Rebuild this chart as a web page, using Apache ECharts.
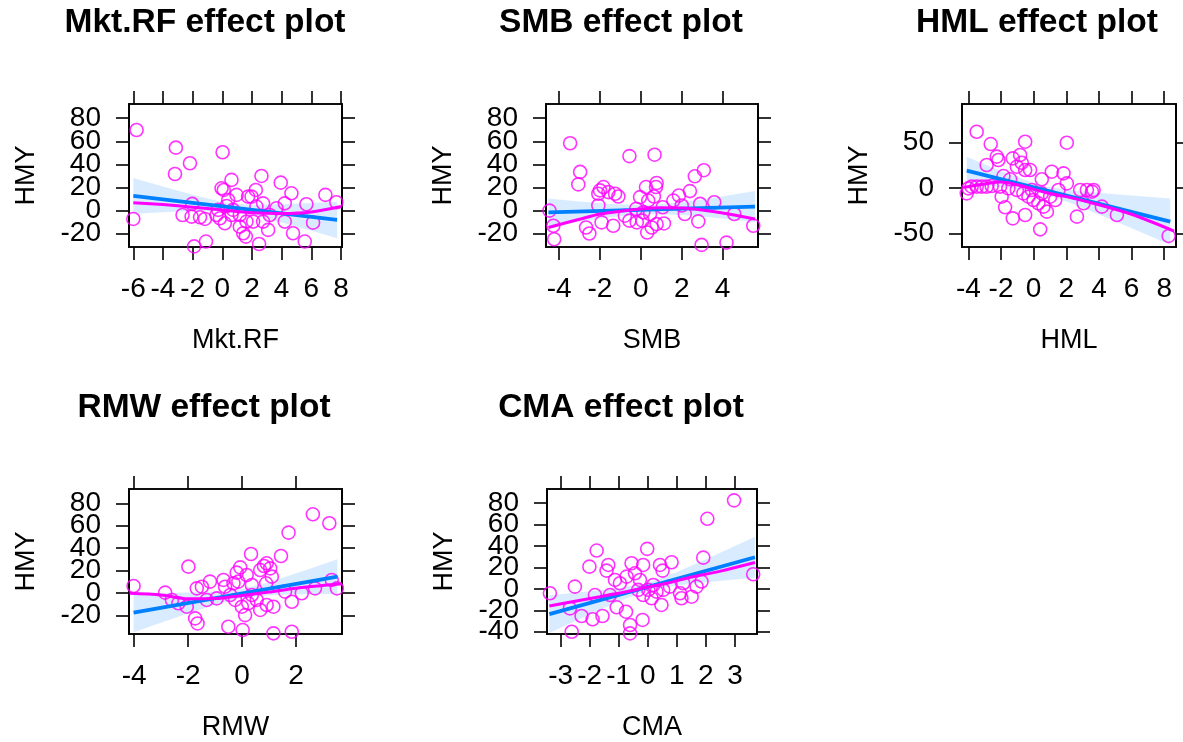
<!DOCTYPE html>
<html>
<head>
<meta charset="utf-8">
<title>Effect plots</title>
<script src="https://cdn.jsdelivr.net/npm/echarts@6/dist/echarts.min.js"></script>
<style>
  html, body { margin: 0; padding: 0; background: #fff; }
  #chart1 { width: 1183px; height: 742px; }
</style>
</head>
<body>
<div id="chart1"></div>
<script>
let option;
let chart1;

// ---- Mkt.RF ----
const mktX = [-5.78, -3.13, 0.02, -2.18, -3.19, -6.0, -3.04, -1.9, -1.1, -2.68, -2.07, -1.5, -1.17, -2.03, 0.62, 0.1, -0.05, 0.96, 0.4, 0.29, -0.16, 0.17, 0.62, 1.18, 1.41, 1.59, 1.74, 1.97, 2.26, 2.64, 2.75, 2.3, 2.08, 2.48, 2.75, 3.09, 3.2, 3.65, 3.94, 4.21, 4.66, 4.21, 4.77, 5.56, 5.67, 6.12, 6.95, 7.69, 1.63, 1.18, 0.73, -0.39, -0.28];
const mktY = [69.8, 54.5, 50.5, 41, 31.7, -7.2, -33.5, -31, -26.8, -3.8, -5.2, -5.8, -7.2, 5.8, 26.6, 17.9, 19.3, 13.6, 9.2, 4.0, -6.6, -11, -3.8, -13.9, -19.6, -22.5, 12.1, 12.1, 17.9, 30, 6.3, 3.5, -9.5, -28.9, -9.5, -16.7, -3.8, 2.0, 24.2, 6.3, 15, -9.5, -19.6, -26.8, 5.5, -10.4, 13.6, 7.2, -9.5, -3.8, 0.6, -3.8, 0.6];
const mktFitX = [-6.0, 7.74];
const mktFitY = [12.7, -8.1];
const mktBandX = [-6, -4, -2, 0, 0.8, 2, 4, 6, 7.74];
const mktBandLo = [-2.8, -1.5, -0.4, -0.3, -1.1, -3.8, -10.3, -17.5, -23.9];
const mktBandHi = [28.2, 20.9, 13.8, 7.5, 5.9, 5.0, 5.5, 6.7, 7.7];
const mktSmoothX = [-6, -4, -2, 0, 2, 4, 6, 8];
const mktSmoothY = [6.9, 5.2, 3.0, 0.5, -1.8, -2.5, -1.2, 3.5];

// ---- SMB ----
const smbX = [-3.46, -0.56, 0.67, -2.97, -3.06, 2.64, 3.08, -4.47, -4.28, -4.24, -2.0, -1.83, -2.08, -1.59, -1.26, -1.1, -2.08, -2.68, -2.52, -1.92, -1.35, -0.78, -0.56, -0.23, -0.04, 0.25, 0.77, 0.74, 0.64, 0.36, 0.08, 0.31, 0.53, 0.77, 1.13, 1.07, 1.59, 1.86, 2.4, 2.0, 2.15, 2.81, 2.9, 3.59, 2.97, 4.19, 4.57, 5.5, 0.45, 0.12, -0.2];
const smbY = [58.3, 47.2, 48.4, 33.5, 22.7, 29.7, 35, 0, -13.1, -24.8, 17.5, 20.4, 14.6, 16, 14.6, 12.2, 4.4, -14.6, -19.8, -10.2, -13.1, -4.4, -8.7, 1.5, 11.7, 20.4, 23.9, 20.4, 12.2, 8.7, -8.7, -19, -14.6, -11.7, -11.1, 2.9, 8.7, 13.1, 16.9, 4.4, -2.9, -9.3, 5.8, 7.3, -29.7, -27.7, -2.9, -13.1, -2.9, -1.5, -10.2];
const smbFitX = [-4.52, 5.58];
const smbFitY = [-1.5, 3.54];
const smbBandX = [-4.52, -3, -1.5, 0.3, 2, 3.5, 5.58];
const smbBandLo = [-13.5, -9.45, -5.7, -2.9, -3.75, -6.0, -10.0];
const smbBandHi = [10.5, 7.95, 5.7, 4.7, 7.25, 11.0, 17.0];
const smbSmoothX = [-4.52, -3, -2, -1, 0, 1, 2, 3, 4, 5.58];
const smbSmoothY = [-14.6, -7.5, -3.0, -0.5, 1.5, 2.5, 2.2, 0.5, -2.0, -7.3];

// ---- HML ----
const hmlX = [-3.49, -2.63, -0.52, 2.03, -2.26, -2.16, -2.88, -1.28, -0.83, -0.73, -0.22, -0.52, -1.03, 1.11, 1.83, 0.5, 2.03, -1.85, -1.44, -4.0, -4.1, -3.8, -3.49, -3.18, -2.88, -2.57, -2.06, -1.55, -1.96, -1.75, -1.28, -0.52, 0.4, -1.03, -0.63, -0.32, -0.01, 0.29, 0.6, 0.81, 1.01, 1.32, 0.5, -0.11, 2.65, 3.06, 3.26, 3.57, 3.67, 4.18, 5.1, 8.27, 2.85, 1.52];
const hmlY = [62.1, 48.5, 51.1, 50, 34.6, 30.9, 25.4, 32.7, 36.4, 27.9, 19.9, 19.9, 23.5, 18, 16.2, 9.6, 5.1, 13.2, 9.6, -0.4, -5.9, 1.5, 1.5, 1.5, 1.5, 2.2, 1.5, -0.4, -9.6, -21.3, -33.5, -29.8, -45.6, -2.2, -5.9, -9.6, -13.2, -16.9, -20.6, -26.1, -9.6, -13.2, -5.9, -2.2, -31.6, -16.9, -2.2, -4, -2.2, -20.6, -29.8, -52.9, -2.2, -2.2];
const hmlFitX = [-4.1, 8.37];
const hmlFitY = [19.1, -37.0];
const hmlBandX = [-4.1, -2, 0.5, 2.5, 5, 8.37];
const hmlBandLo = [3.8, 0.75, -5.6, -18.1, -36.75, -62.5];
const hmlBandHi = [34.4, 18.55, 2.4, -3.1, -6.95, -11.5];
const hmlSmoothX = [-4.3, -3, -2, -1, 0, 1, 2, 4, 6, 8.6];
const hmlSmoothY = [0.7, 4.5, 6.5, 3.5, -1.5, -6, -9.5, -18.5, -29, -47.5];

// ---- RMW ----
const rmwX = [2.62, 3.23, 1.72, 0.33, 1.44, -1.99, -4.02, -2.85, -2.6, -2.36, -2.05, -1.74, -1.65, -1.68, -1.49, -1.19, -0.69, -0.63, -0.2, -0.07, -0.14, 0.17, 0.67, 0.81, 0.91, 1.04, 1.1, 0.89, 0.36, -0.51, 0.02, 0.11, -0.01, 0.23, 0.54, 0.67, 0.91, 1.16, 1.16, 1.84, 1.84, 1.59, 2.21, 2.7, 3.32, 3.51, -0.44, -0.94, -1.31, -0.32, -0.26, 0.36];
const rmwY = [70.2, 62.2, 53.9, 34.9, 33.1, 23.6, 6.4, 0.5, -6, -9, -12, -22.4, -26.9, 4.3, 5.8, 10.3, 11.8, 5.8, 18.3, 23, 10.3, 16.2, 20.6, 24.2, 26.6, 22.1, 14.7, 8.8, 7.3, -29.8, -32.8, -19.5, -12, -9, -6, -14.9, -10.5, -12, -35.7, -34.3, -7.6, 1.4, -0.1, 4.3, 11.8, 4.3, -1.6, -4.6, -6, 8.8, -6, -1.6];
const rmwFitX = [-4.02, 3.53];
const rmwFitY = [-17.3, 14.7];
const rmwBandX = [-4.02, -2.5, -1, 0, 1, 2.2, 3.53];
const rmwBandLo = [-34.7, -22.05, -10.3, -4.25, -1.8, -1.0, -0.7];
const rmwBandHi = [0.1, 0.35, 1.3, 3.75, 9.8, 19.2, 30.1];
const rmwSmoothX = [-4.17, -3, -2, -1, 0, 1, 2, 3.7];
const rmwSmoothY = [0, -1.5, -5, -4.8, -2, 1, 4.5, 8.5];

// ---- CMA ----
const cmaX = [2.97, 2.05, -0.02, -1.76, 1.91, 0.82, -2.01, -1.36, -1.42, -0.56, -0.16, 0.42, 0.51, -2.51, -3.37, -2.68, -2.28, -1.9, -1.56, -1.07, -0.75, -0.61, -2.62, -0.61, -0.18, -1.82, -1.13, -0.96, -0.73, -0.44, -0.27, -0.33, -0.16, 0.02, 0.13, 0.19, 0.47, 0.53, 0.76, 1.11, 1.22, 1.51, 1.68, 1.85, 1.16, 3.63, -1.3, 0.3];
const cmaY = [82.5, 65.3, 37.3, 35.7, 29.1, 24.8, 20.7, 22.3, 17, 23.9, 22.3, 22.3, 17, 2.1, -4.1, -18.2, -25.3, -28.4, -25.3, -17.2, -21.3, -33.7, -40, -41.5, -29, -5.8, 8.3, 5.2, 11.4, 14.5, 8.3, -1.0, -5.8, -1.0, -8.8, 3.6, -15, -1.0, 2.1, -4.1, 5.2, -7.3, 2.1, 6.8, -8.8, 13.6, -5.8, -2.6];
const cmaFitX = [-3.39, 3.69];
const cmaFitY = [-23.5, 29.5];
const cmaBandX = [-3.39, -2, -1, 0, 1, 2, 3.69];
const cmaBandLo = [-41.1, -23.9, -11.8, -1.6, 3.2, 6.1, 10.4];
const cmaBandHi = [-5.9, -2.3, 0.6, 5.4, 15.6, 27.7, 48.6];
const cmaSmoothX = [-3.39, -2.5, -1.65, -0.8, -0.04, 0.7, 1.33, 2.5, 3.69];
const cmaSmoothY = [-16, -11.5, -7.3, -3, 1.5, 5.5, 9.9, 16.5, 24.5];

// tick labels
const mktTicks = [-6, -4, -2, 0, 2, 4, 6, 8];
const smbTicks = [-4, -2, 0, 2, 4];
const hmlTicks = [-4, -2, 0, 2, 4, 6, 8];
const rmwTicks = [-4, -2, 0, 2];
const cmaTicks = [-3, -2, -1, 0, 1, 2, 3];
const yTicksA = [-20, 0, 20, 40, 60, 80];
const yTicksB = [-50, 0, 50];
const yTicksC = [-40, -20, 0, 20, 40, 60, 80];

const FONT = "'Liberation Sans', Arial, sans-serif";

const panels = [
    { name: 'Mkt.RF', x: mktX, y: mktY, fitX: mktFitX, fitY: mktFitY, bx: mktBandX, lo: mktBandLo, hi: mktBandHi, sx: mktSmoothX, sy: mktSmoothY,
      xt: mktTicks, yt: yTicksA, xmin: -6.29, xmax: 8.07, ymin: -31.5, ymax: 92.3, left: 129, top: 104, width: 213, height: 143, titleX: 205 },
    { name: 'SMB', x: smbX, y: smbY, fitX: smbFitX, fitY: smbFitY, bx: smbBandX, lo: smbBandLo, hi: smbBandHi, sx: smbSmoothX, sy: smbSmoothY,
      xt: smbTicks, yt: yTicksA, xmin: -4.64, xmax: 5.73, ymin: -31.5, ymax: 92.3, left: 546, top: 104, width: 212, height: 143, titleX: 621 },
    { name: 'HML', x: hmlX, y: hmlY, fitX: hmlFitX, fitY: hmlFitY, bx: hmlBandX, lo: hmlBandLo, hi: hmlBandHi, sx: hmlSmoothX, sy: hmlSmoothY,
      xt: hmlTicks, yt: yTicksB, xmin: -4.39, xmax: 8.72, ymin: -65.1, ymax: 92.7, left: 962, top: 104, width: 214, height: 143, titleX: 1037 },
    { name: 'RMW', x: rmwX, y: rmwY, fitX: rmwFitX, fitY: rmwFitY, bx: rmwBandX, lo: rmwBandLo, hi: rmwBandHi, sx: rmwSmoothX, sy: rmwSmoothY,
      xt: rmwTicks, yt: yTicksA, xmin: -4.19, xmax: 3.70, ymin: -36.3, ymax: 92.7, left: 129, top: 489, width: 213, height: 145, titleX: 204 },
    { name: 'CMA', x: cmaX, y: cmaY, fitX: cmaFitX, fitY: cmaFitY, bx: cmaBandX, lo: cmaBandLo, hi: cmaBandHi, sx: cmaSmoothX, sy: cmaSmoothY,
      xt: cmaTicks, yt: yTicksC, xmin: -3.47, xmax: 3.76, ymin: -42.1, ymax: 93.1, left: 547, top: 489, width: 210, height: 145, titleX: 621 }
];

// R puts y labels so close that echarts drops neighbours; split them over two stacked axes
const everyOther = (arr, start) => arr.filter((v, j) => j % 2 === start);

const axisBase = (p, gi, pos, ticks, isX, withLabels, withName) => {
    return {
        gridIndex: gi,
        type: 'value',
        position: pos,
        min: isX ? p.xmin : p.ymin,
        max: isX ? p.xmax : p.ymax,
        axisLine: { show: true, onZero: false, lineStyle: { color: '#000', width: 1.6 } },
        axisTick: { show: true, inside: false, length: 13, customValues: ticks, lineStyle: { color: '#000', width: 1.6 } },
        axisLabel: { show: withLabels, customValues: ticks, fontSize: 28, color: '#000', fontFamily: FONT, margin: 28,
                     showMinLabel: true, showMaxLabel: true },
        splitLine: { show: false },
        name: withName ? (isX ? p.name : 'HMY') : '',
        nameLocation: 'middle',
        nameGap: isX ? 80 : 89,
        nameMoveOverlap: false,
        nameTextStyle: { fontSize: 27, color: '#000', fontFamily: FONT }
    };
};

const getOptionChart1 = () => {
    const grid = [], xAxis = [], yAxis = [], series = [], title = [];
    panels.forEach((p, i) => {
        grid.push({ left: p.left, top: p.top, width: p.width, height: p.height, outerBoundsMode: 'none', containLabel: false,
                    show: true, borderColor: '#000', borderWidth: 1.6, backgroundColor: '#fff' });
        xAxis.push(axisBase(p, i, 'bottom', p.xt, true, true, true));
        xAxis.push(axisBase(p, i, 'top', p.xt, true, false, false));
        const yEven = everyOther(p.yt, 0), yOdd = everyOther(p.yt, 1);
        yAxis.push(axisBase(p, i, 'left', yEven, false, true, true));
        yAxis.push(axisBase(p, i, 'left', yOdd, false, true, false));
        yAxis.push(axisBase(p, i, 'right', yEven, false, false, false));
        yAxis.push(axisBase(p, i, 'right', yOdd, false, false, false));
        title.push({
            text: p.name + ' effect plot',
            left: p.titleX, top: p.top - 98, textAlign: 'center', padding: 0,
            textStyle: { fontSize: 33.5, fontWeight: 'bold', color: '#000', fontFamily: FONT }
        });
        const ax = { xAxisIndex: 2 * i, yAxisIndex: 4 * i };
        // confidence band
        series.push(Object.assign({
            type: 'custom',
            coordinateSystem: 'cartesian2d',
            silent: true,
            z: 1,
            data: p.bx.map((x, j) => [x, p.lo[j], p.hi[j]]),
            renderItem: (params, api) => {
                if (params.dataIndex !== 0) return null;
                const pts = [];
                p.bx.forEach((x, j) => pts.push(api.coord([x, p.hi[j]])));
                for (let j = p.bx.length - 1; j >= 0; j--) pts.push(api.coord([p.bx[j], p.lo[j]]));
                const cs = params.coordSys;
                return {
                    type: 'polygon',
                    shape: { points: pts },
                    style: { fill: 'rgba(0,128,255,0.15)', stroke: null },
                    clipPath: { type: 'rect', shape: { x: cs.x, y: cs.y, width: cs.width, height: cs.height } }
                };
            }
        }, ax));
        // partial residuals
        series.push(Object.assign({
            type: 'scatter',
            z: 2,
            symbol: 'circle',
            symbolSize: 13,
            itemStyle: { color: 'rgba(255,255,255,0)', borderColor: '#ff00ff', borderWidth: 1.6 },
            data: p.x.map((x, j) => [x, p.y[j]])
        }, ax));
        // fitted line
        series.push(Object.assign({
            type: 'line',
            z: 3,
            showSymbol: false,
            lineStyle: { color: '#0080ff', width: 3.8 },
            data: p.fitX.map((x, j) => [x, p.fitY[j]])
        }, ax));
        // smoother
        series.push(Object.assign({
            type: 'line',
            z: 4,
            showSymbol: false,
            smooth: 0.3,
            lineStyle: { color: '#ff00ff', width: 3 },
            data: p.sx.map((x, j) => [x, p.sy[j]])
        }, ax));
    });
    return { animation: false, backgroundColor: '#fff', title, grid, xAxis, yAxis, series };
};

const initCharts = () => {
    chart1 = echarts.init(document.getElementById("chart1"));
    option = getOptionChart1();
    chart1.setOption(option);
};
document.addEventListener('DOMContentLoaded', function () {
    initCharts();
});

window.addEventListener('resize', function () {
    chart1.resize();
});
</script>
</body>
</html>
